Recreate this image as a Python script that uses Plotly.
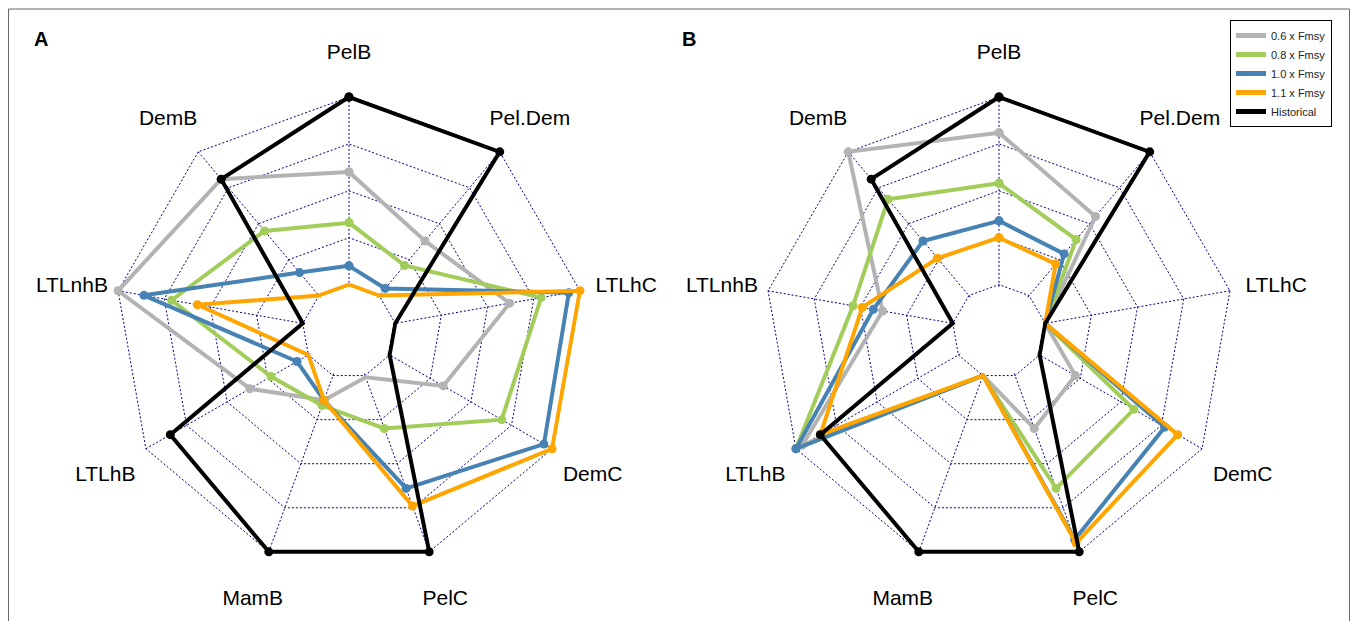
import plotly.graph_objects as go

categories = ["PelB", "Pel.Dem", "LTLhC", "DemC", "PelC", "MamB", "LTLhB", "LTLnhB", "DemB"]

series_names = ["0.6 x Fmsy", "0.8 x Fmsy", "1.0 x Fmsy", "1.1 x Fmsy", "Historical"]
series_colors = ["#B3B3B3", "#A2CD5A", "#4682B4", "#FFA500", "#000000"]

# Panel A (scaled 0..1 per axis)
gray_A = [0.60, 0.38, 0.62, 0.33, 0.01, 0.14, 0.36, 1.00, 0.81]
green_A = [0.33, 0.21, 0.79, 0.69, 0.30, 0.17, 0.23, 0.71, 0.45]
blue_A = [0.10, 0.05, 0.94, 0.95, 0.64, 0.14, 0.07, 0.86, 0.16]
orange_A = [0.00, 0.00, 1.00, 1.00, 0.74, 0.14, 0.00, 0.57, 0.00]
hist_A = [1.00, 1.00, 0.00, 0.00, 1.00, 1.00, 0.85, 0.00, 0.81]

# Panel B
gray_B = [0.81, 0.55, 0.00, 0.22, 0.30, 0.00, 0.96, 0.38, 1.00]
green_B = [0.54, 0.39, 0.00, 0.58, 0.64, 0.00, 1.00, 0.54, 0.67]
blue_B = [0.34, 0.29, 0.00, 0.77, 0.93, 0.00, 1.00, 0.43, 0.38]
orange_B = [0.25, 0.22, 0.00, 0.85, 0.95, 0.00, 0.85, 0.49, 0.26]
hist_B = [1.00, 1.00, 0.00, 0.00, 1.00, 1.00, 0.85, 0.00, 0.81]

grid_levels = [0, 0.25, 0.5, 0.75, 1.0]

W, H = 1358, 621
R = 234.5          # outer ring radius in px
CY = 331.5         # centre y (from top)
CENTERS = {"A": 349, "B": 999}
INNER = 0.2        # inner ring as fraction of outer ring
E = 0.012          # small range padding so the end grid rings are drawn

# solve hole / plot radius so that value 0 -> INNER*R and value 1 -> R
a = (1 + E) / (1 + 2 * E)
b = E / (1 + 2 * E)
HOLE = (INNER * a - b) / ((1 - b) - INNER * (1 - a))
RP = R / (HOLE + (1 - HOLE) * a)

LABEL_CY = CY + 4
LABEL_RP = H - LABEL_CY - 0.5    # radius of the label overlay subplot
label_r = 1.2 * R / LABEL_RP     # labels at 1.2 x outer ring

FONT = "Liberation Sans, Arial, sans-serif"

panels = [
    ("polar", "polar3", [gray_A, green_A, blue_A, orange_A, hist_A]),
    ("polar2", "polar4", [gray_B, green_B, blue_B, orange_B, hist_B]),
]

fig = go.Figure()

for sub, lab_sub, data in panels:
    for name, color, vals in zip(series_names, series_colors, data):
        fig.add_trace(go.Scatterpolar(
            r=vals + vals[:1],
            theta=categories + categories[:1],
            mode="lines+markers",
            line=dict(color=color, width=4),
            marker=dict(color=color, size=9),
            name=name,
            showlegend=False,
            cliponaxis=False,
            subplot=sub,
            hoverinfo="skip",
        ))
    fig.add_trace(go.Scatterpolar(
        r=[label_r] * len(categories),
        theta=categories,
        mode="text",
        text=categories,
        textposition="middle center",
        textfont=dict(family=FONT, size=21, color="black"),
        cliponaxis=False,
        showlegend=False,
        hoverinfo="skip",
        subplot=lab_sub,
    ))

# legend-only entries
for name, color in zip(series_names, series_colors):
    fig.add_trace(go.Scatterpolar(
        r=[None], theta=[categories[0]], mode="lines",
        line=dict(color=color, width=5), name=name,
        showlegend=True, subplot="polar2", hoverinfo="skip",
    ))


def polar_layout(cx):
    return dict(
        domain=dict(x=[(cx - RP) / W, (cx + RP) / W], y=[(H - CY - RP) / H, (H - CY + RP) / H]),
        gridshape="linear",
        hole=HOLE,
        bgcolor="rgba(0,0,0,0)",
        radialaxis=dict(
            range=[-E, 1 + E], tickvals=grid_levels, showticklabels=False,
            ticks="", showline=False, showgrid=True,
            gridcolor="#000080", gridwidth=1.2, griddash="2px,2px",
        ),
        angularaxis=dict(
            type="category", categoryarray=categories, direction="clockwise",
            rotation=90, showticklabels=False, ticks="", showline=False,
            showgrid=True, gridcolor="#000080", gridwidth=1.2, griddash="2px,2px",
        ),
    )


def label_layout(cx):
    return dict(
        domain=dict(x=[(cx - LABEL_RP) / W, (cx + LABEL_RP) / W],
                    y=[(H - LABEL_CY - LABEL_RP) / H, (H - LABEL_CY + LABEL_RP) / H]),
        bgcolor="rgba(0,0,0,0)",
        radialaxis=dict(range=[0, 1], visible=False, showgrid=False),
        angularaxis=dict(
            type="category", categoryarray=categories, direction="clockwise",
            rotation=90, showticklabels=False, ticks="", showline=False, showgrid=False,
        ),
    )


fig.update_layout(
    width=W, height=H,
    margin=dict(l=0, r=0, t=0, b=0),
    paper_bgcolor="white",
    plot_bgcolor="white",
    polar=polar_layout(CENTERS["A"]),
    polar2=polar_layout(CENTERS["B"]),
    polar3=label_layout(CENTERS["A"]),
    polar4=label_layout(CENTERS["B"]),
    showlegend=True,
    legend=dict(
        x=1230 / W, y=1 - 20 / H, xanchor="left", yanchor="top",
        bordercolor="black", borderwidth=1, bgcolor="white",
        font=dict(family=FONT, size=11, color="#222222"),
        itemwidth=30, tracegroupgap=0,
    ),
    annotations=[
        dict(text="<b>A</b>", x=40.5 / W, y=1 - 38.5 / H, xref="paper", yref="paper",
             xanchor="center", yanchor="middle",
             showarrow=False, font=dict(family=FONT, size=20, color="black")),
        dict(text="<b>B</b>", x=689 / W, y=1 - 38.5 / H, xref="paper", yref="paper",
             xanchor="center", yanchor="middle",
             showarrow=False, font=dict(family=FONT, size=20, color="black")),
    ],
    shapes=[
        dict(type="rect", xref="paper", yref="paper",
             x0=8.5 / W, x1=1349.5 / W, y0=-0.05, y1=1 - 9 / H,
             line=dict(color="#666666", width=1), fillcolor="rgba(0,0,0,0)"),
    ],
)

fig.write_html("out.html")
